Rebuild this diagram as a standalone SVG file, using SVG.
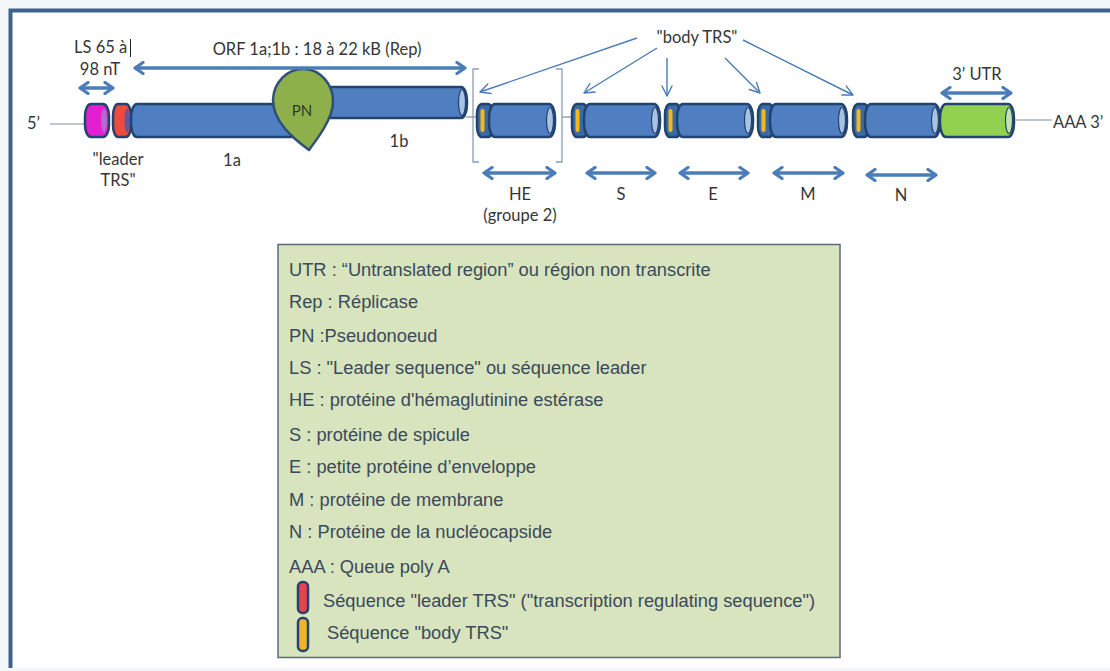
<svg xmlns="http://www.w3.org/2000/svg" width="1110" height="671" viewBox="0 0 1110 671">
  <style>
    .lbl { font-family: Lato, "Liberation Sans", sans-serif; font-size: 16.5px; fill: #363636; }
    .leg { font-family: "Liberation Sans", Arial, sans-serif; font-size: 18.3px; fill: #3b495c; }
    .body { fill: #4f7fc0; stroke: #22436f; stroke-width: 2.5; }
    .trs { fill: #3b6aa8; stroke: #22436f; stroke-width: 2.5; }
    .cap { fill: #a9c1e3; stroke: #22436f; stroke-width: 1.2; }
    .ystripe { fill: #f4b81c; }
    .thick { stroke: #4a7cb8; stroke-width: 3.5; fill: none; marker-start: url(#dh); marker-end: url(#dh); }
    .thin { stroke: #4a7cb8; stroke-width: 1.4; fill: none; marker-end: url(#th); }
    .link { stroke: #7d8da3; stroke-width: 1.2; }
    .brk { stroke: #8d9db5; stroke-width: 1.3; fill: none; }
  </style>
  <defs>
    <marker id="dh" viewBox="0 0 12 14" refX="10" refY="7" markerWidth="12" markerHeight="14" markerUnits="userSpaceOnUse" orient="auto-start-reverse">
      <path d="M2,1.5 L10,7 L2,12.5" fill="none" stroke="#4a7cb8" stroke-width="3.2" stroke-linecap="round" stroke-linejoin="round"/>
    </marker>
    <marker id="th" viewBox="0 0 12 12" refX="11" refY="6" markerWidth="12" markerHeight="12" markerUnits="userSpaceOnUse" orient="auto">
      <path d="M1,1 L11,6 L1,11" fill="none" stroke="#4a7cb8" stroke-width="1.4" stroke-linecap="round" stroke-linejoin="round"/>
    </marker>
  </defs>

  <!-- page background and frame -->
  <rect x="0" y="0" width="1110" height="671" fill="#f4f8fb"/>
  <rect x="10.5" y="10.5" width="1120" height="657" fill="#ffffff"/>
  <path d="M10.5,668 L10.5,10.5 L1110,10.5" fill="none" stroke="#41628f" stroke-width="4"/>

  <!-- thin genome strand segments -->
  <g id="strand">
    <line class="link" x1="50" y1="124" x2="84" y2="124"/>
    <line class="link" x1="466" y1="117" x2="477" y2="117"/>
    <line class="link" x1="562" y1="117" x2="572" y2="117"/>
    <line class="link" x1="1016" y1="120" x2="1052" y2="120"/>
  </g>

  <!-- 5' leader: LS and leader TRS -->
  <g id="leader">
    <rect x="85" y="104" width="24" height="33" rx="6" ry="12" fill="#e41fd2" stroke="#22436f" stroke-width="2.5"/>
    <ellipse cx="104" cy="120.5" rx="3" ry="12" fill="#b46ad0"/>
    <rect x="113" y="104" width="18" height="33" rx="5" ry="12" fill="#f04a3a" stroke="#22436f" stroke-width="2.5"/>
    <ellipse cx="127" cy="120.5" rx="2.5" ry="12" fill="#5a5a9a"/>
  </g>

  <!-- ORF 1a -->
  <g id="orf1a">
    <rect class="body" x="131" y="104" width="175" height="33" rx="6" ry="14"/>
  </g>

  <!-- ORF 1b -->
  <g id="orf1b">
    <rect class="body" x="320" y="87" width="147" height="31" rx="6" ry="14"/>
    <ellipse class="cap" cx="462" cy="102.5" rx="3.5" ry="13"/>
  </g>

  <!-- pseudoknot -->
  <g id="pn">
    <path d="M309,150 C294,139 273,122 273,100 A30,32 0 0 1 333,102 C333,118 318,138 309,150 Z" fill="#8db04a" stroke="#30507a" stroke-width="2.5" stroke-linejoin="round"/>
    <text x="302" y="116" font-family="Lato, 'Liberation Sans', sans-serif" font-size="15" fill="#2d3a2a" text-anchor="middle">PN</text>
  </g>

  <!-- structural genes -->
  <g id="gene-he">
    <rect class="trs" x="477" y="104" width="16" height="33" rx="5" ry="10"/>
    <rect class="ystripe" x="480.5" y="109" width="4" height="23" rx="2"/>
    <rect class="body" x="489" y="104" width="66" height="33" rx="6" ry="14"/>
    <ellipse class="cap" cx="550" cy="120.5" rx="3.5" ry="13"/>
  </g>
  <g id="gene-s">
    <rect class="trs" x="572" y="104" width="16" height="33" rx="5" ry="10"/>
    <rect class="ystripe" x="575.5" y="109" width="4" height="23" rx="2"/>
    <rect class="body" x="584" y="104" width="76" height="33" rx="6" ry="14"/>
    <ellipse class="cap" cx="655" cy="120.5" rx="3.5" ry="13"/>
  </g>
  <g id="gene-e">
    <rect class="trs" x="665" y="104" width="16" height="33" rx="5" ry="10"/>
    <rect class="ystripe" x="668.5" y="109" width="4" height="23" rx="2"/>
    <rect class="body" x="677" y="104" width="76" height="33" rx="6" ry="14"/>
    <ellipse class="cap" cx="748" cy="120.5" rx="3.5" ry="13"/>
  </g>
  <g id="gene-m">
    <rect class="trs" x="758" y="104" width="16" height="33" rx="5" ry="10"/>
    <rect class="ystripe" x="761.5" y="109" width="4" height="23" rx="2"/>
    <rect class="body" x="770" y="104" width="77" height="33" rx="6" ry="14"/>
    <ellipse class="cap" cx="842" cy="120.5" rx="3.5" ry="13"/>
  </g>
  <g id="gene-n">
    <rect class="trs" x="853" y="104" width="16" height="33" rx="5" ry="10"/>
    <rect class="ystripe" x="856.5" y="109" width="4" height="23" rx="2"/>
    <rect class="body" x="865" y="104" width="75" height="33" rx="6" ry="14"/>
    <ellipse class="cap" cx="935" cy="120.5" rx="3.5" ry="13"/>
  </g>
  <g id="utr3">
    <rect x="940" y="104" width="74" height="33" rx="6" ry="14" fill="#92d050" stroke="#22436f" stroke-width="2.5"/>
    <ellipse cx="1009" cy="120.5" rx="3.5" ry="13" fill="#c4e2b0" stroke="#22436f" stroke-width="1.2"/>
  </g>

  <!-- HE bracket (group 2 only) -->
  <g id="he-bracket">
    <path class="brk" d="M479,69 L473,69 L473,162 L479,162"/>
    <path class="brk" d="M556,69 L562,69 L562,162 L556,162"/>
  </g>

  <!-- extent arrows and body TRS pointers -->
  <g id="connectors">
    <line class="thick" x1="80" y1="88" x2="113" y2="88"/>
    <line class="thick" x1="135" y1="68" x2="465" y2="68"/>
    <line class="thick" x1="942" y1="93" x2="1011" y2="93"/>
    <line class="thick" x1="484" y1="173" x2="555" y2="173"/>
    <line class="thick" x1="587" y1="173" x2="655" y2="173"/>
    <line class="thick" x1="680" y1="173" x2="748" y2="173"/>
    <line class="thick" x1="774" y1="173" x2="843" y2="173"/>
    <line class="thick" x1="867" y1="175" x2="936" y2="175"/>

    <line class="thin" x1="637" y1="38" x2="480" y2="92"/>
    <line class="thin" x1="657" y1="48" x2="584" y2="93"/>
    <line class="thin" x1="667" y1="58" x2="667" y2="96"/>
    <line class="thin" x1="725" y1="58" x2="760" y2="93"/>
    <line class="thin" x1="743" y1="40" x2="853" y2="95"/>
  </g>

  <!-- genome labels -->
  <g id="labels">
    <text class="lbl" x="27" y="129">5’</text>
    <text class="lbl" x="74" y="53">LS 65 à</text>
    <line x1="130.5" y1="39" x2="130.5" y2="57" stroke="#222" stroke-width="1"/>
    <text class="lbl" x="100" y="75" text-anchor="middle">98 nT</text>
    <text class="lbl" x="317" y="55" text-anchor="middle">ORF 1a;1b : 18 à 22 kB (Rep)</text>
    <text class="lbl" x="118" y="165" text-anchor="middle">"leader</text>
    <text class="lbl" x="118" y="186" text-anchor="middle">TRS"</text>
    <text class="lbl" x="232" y="166" text-anchor="middle">1a</text>
    <text class="lbl" x="399" y="147" text-anchor="middle">1b</text>
    <text class="lbl" x="697" y="43" text-anchor="middle">"body TRS"</text>
    <text class="lbl" x="977" y="80" text-anchor="middle">3’ UTR</text>
    <text class="lbl" x="1053" y="128">AAA 3’</text>
    <text class="lbl" x="520" y="200" text-anchor="middle">HE</text>
    <text class="lbl" x="520" y="221" text-anchor="middle">(groupe 2)</text>
    <text class="lbl" x="621" y="200" text-anchor="middle">S</text>
    <text class="lbl" x="713" y="200" text-anchor="middle">E</text>
    <text class="lbl" x="808" y="200" text-anchor="middle">M</text>
    <text class="lbl" x="901" y="201" text-anchor="middle">N</text>
  </g>

  <!-- legend -->
  <g id="legend">
    <rect x="278" y="244.5" width="562" height="413" fill="#d7e4bd" stroke="#5b6b7d" stroke-width="1.5"/>
    <text class="leg" x="289" y="276">UTR : “Untranslated region” ou région non transcrite</text>
    <text class="leg" x="289" y="308">Rep : Réplicase</text>
    <text class="leg" x="289" y="342">PN :Pseudonoeud</text>
    <text class="leg" x="289" y="374">LS : "Leader sequence" ou séquence leader</text>
    <text class="leg" x="289" y="406">HE : protéine d'hémaglutinine estérase</text>
    <text class="leg" x="289" y="441">S : protéine de spicule</text>
    <text class="leg" x="289" y="473">E : petite protéine d’enveloppe</text>
    <text class="leg" x="289" y="506">M : protéine de membrane</text>
    <text class="leg" x="289" y="538">N : Protéine de la nucléocapside</text>
    <text class="leg" x="289" y="573">AAA : Queue poly A</text>
    <rect x="298" y="582" width="10" height="31" rx="4.5" fill="#e8424e" stroke="#22436f" stroke-width="2.5"/>
    <text class="leg" x="323" y="607">Séquence "leader TRS"  ("transcription regulating sequence")</text>
    <rect x="298" y="618" width="10" height="33" rx="4.5" fill="#f0b428" stroke="#22436f" stroke-width="2.5"/>
    <text class="leg" x="327" y="639">Séquence "body TRS"</text>
  </g>
</svg>
